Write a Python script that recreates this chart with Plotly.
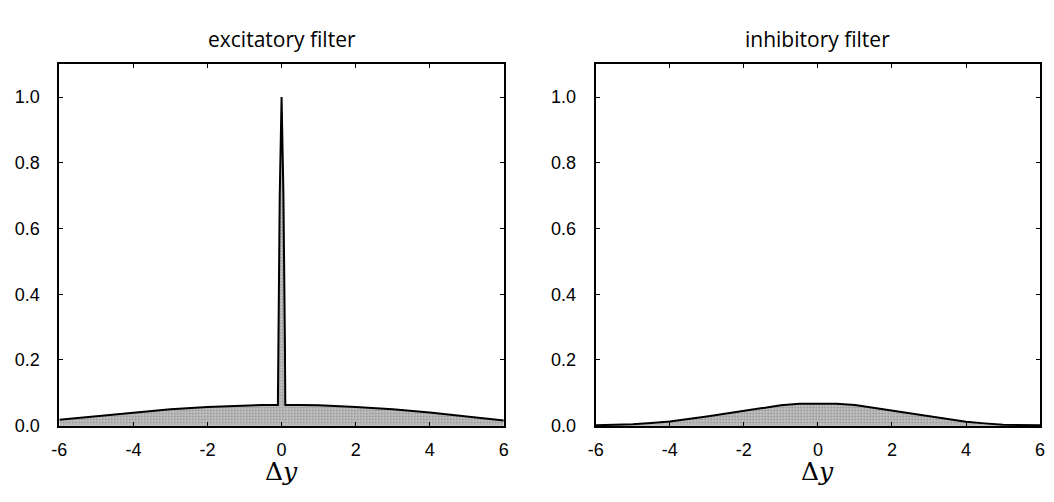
import plotly.graph_objects as go

# Excitatory filter: broad low hump with a narrow spike at the origin
exc_x = [-6.0, -5.0, -4.0, -3.0, -2.0, -1.0, -0.5, -0.1, -0.09, -0.05, 0.0, 0.05, 0.09,
         0.1, 0.5, 1.0, 2.0, 3.0, 4.0, 5.0, 6.0]
exc_y = [0.018, 0.028, 0.040, 0.050, 0.057, 0.062, 0.063, 0.063, 0.25, 0.70, 1.0, 0.70,
         0.25, 0.063, 0.063, 0.062, 0.057, 0.050, 0.040, 0.028, 0.016]

# Inhibitory filter: single smooth bump centred near zero
inh_x = [-6.0, -5.0, -4.5, -4.0, -3.0, -2.0, -1.0, -0.5, 0.0, 0.5, 1.0, 2.0, 3.0,
         4.0, 4.5, 5.0, 6.0]
inh_y = [0.001, 0.004, 0.008, 0.013, 0.028, 0.045, 0.062, 0.067, 0.068, 0.067, 0.063,
         0.046, 0.028, 0.012, 0.007, 0.003, 0.001]

panel_titles = ["excitatory filter", "inhibitory filter"]
x_ticks = [-6, -4, -2, 0, 2, 4, 6]
y_ticks = [0.0, 0.2, 0.4, 0.6, 0.8, 1.0]
y_tick_text = ["0.0", "0.2", "0.4", "0.6", "0.8", "1.0"]

W, H = 1054, 502
x_domains = [[52 / W, 502 / W], [595 / W, 1045 / W]]
y_domain = [1 - 435 / H, 1 - 65.5 / H]

fill_pattern = dict(shape=".", fgcolor="#555555", bgcolor="#cdcdcd",
                    size=3, solidity=0.45)

fig = go.Figure()
for i, (xs, ys) in enumerate([(exc_x, exc_y), (inh_x, inh_y)]):
    sfx = "" if i == 0 else "2"
    fig.add_trace(go.Scatter(
        x=xs, y=ys, mode="lines",
        line=dict(color="black", width=2),
        fill="tozeroy", fillcolor="#c4c4c4", fillpattern=fill_pattern,
        xaxis="x" + sfx, yaxis="y" + sfx, showlegend=False,
        hoverinfo="skip",
    ))

axis_common = dict(
    showgrid=False, zeroline=False, showline=True, linecolor="black",
    linewidth=2, mirror="ticks", ticks="inside", ticklen=4, tickwidth=1,
    tickcolor="black",
    tickfont=dict(family="Liberation Sans, Arial, sans-serif", size=18,
                  color="black"),
)

layout = dict(
    width=W, height=H,
    margin=dict(l=0, r=0, t=0, b=0),
    paper_bgcolor="white", plot_bgcolor="white",
    showlegend=False,
)
for i in range(2):
    sfx = "" if i == 0 else "2"
    layout["xaxis" + sfx] = dict(
        axis_common, domain=x_domains[i], range=[-6, 6],
        tickvals=x_ticks, ticktext=[str(t) for t in x_ticks],
        anchor="y" + sfx, ticklabelstandoff=6,
    )
    layout["yaxis" + sfx] = dict(
        axis_common, domain=y_domain, range=[-0.002, 1.1],
        tickvals=y_ticks, ticktext=y_tick_text, anchor="x" + sfx,
        ticklabelstandoff=14,
    )

fig.update_layout(**layout)

annotations = []
for i in range(2):
    cx = (x_domains[i][0] + x_domains[i][1]) / 2
    annotations.append(dict(
        text=panel_titles[i], x=cx, y=1 - 40 / H, xref="paper", yref="paper",
        showarrow=False, xanchor="center", yanchor="middle",
        font=dict(family="Open Sans, DejaVu Sans, sans-serif", size=21,
                  color="black"),
    ))
    annotations.append(dict(
        text="Δ<i>y</i>", x=cx, y=1 - 481 / H, xref="paper", yref="paper",
        showarrow=False, xanchor="center", yanchor="middle",
        font=dict(family="DejaVu Serif, Liberation Serif, serif", size=25,
                  color="black"),
    ))
fig.update_layout(annotations=annotations)

fig.write_html("out.html")
